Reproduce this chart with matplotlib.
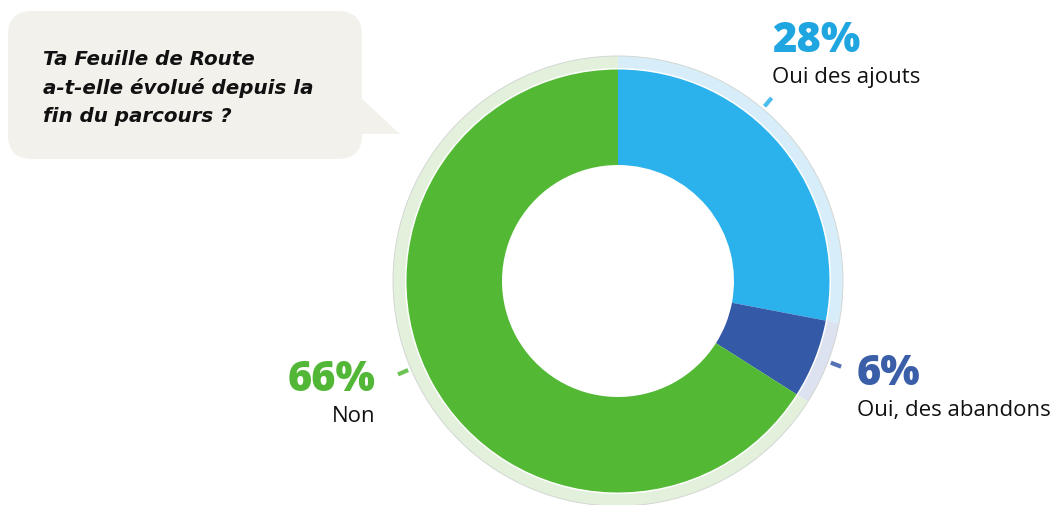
import matplotlib.pyplot as plt
from matplotlib.patches import FancyBboxPatch, Polygon, Circle
import numpy as np

# survey answers, clockwise from 12 o'clock
answers = ["Oui des ajouts", "Oui, des abandons", "Non"]
shares = [28, 6, 66]
colors = ["#2bb2ec", "#3459a7", "#53b935"]
halo_colors = ["#d7eefa", "#dce2ef", "#e3f1dc"]
label_colors = ["#1fa6e0", "#3a5ea8", "#52b737"]

question_lines = ["Ta Feuille de Route", "a-t-elle évolué depuis la", "fin du parcours ?"]

W, H = 1056, 506
CX, CY = 618, 282
R_OUT, R_IN = 211.5, 116
R_HALO = 225

plt.rcParams["font.family"] = ["Open Sans", "DejaVu Sans"]

fig = plt.figure(figsize=(W / 100, H / 100), dpi=100)
ax = fig.add_axes([0, 0, 1, 1])

# pale outer ring, one tint per answer
ax.pie(shares, colors=halo_colors, radius=R_HALO, center=(CX, CY),
       startangle=270, counterclock=True,
       wedgeprops=dict(width=R_HALO - R_OUT - 1.5, linewidth=0))
ax.add_patch(Circle((CX, CY), R_HALO, fill=False, ec="#d3d7d3", lw=0.7, zorder=3))

# main donut
ax.pie(shares, colors=colors, radius=R_OUT, center=(CX, CY),
       startangle=270, counterclock=True,
       wedgeprops=dict(width=R_OUT - R_IN, linewidth=0))

# small ticks just outside the ring (angle in degrees clockwise from top)
tick_angles = [40, 111, 247]
for ang, col in zip(tick_angles, colors):
    a = np.radians(ang)
    r0, r1 = 228, 239
    ax.plot([CX + r0 * np.sin(a), CX + r1 * np.sin(a)],
            [CY - r0 * np.cos(a), CY - r1 * np.cos(a)],
            color=col, lw=3, solid_capstyle="butt", alpha=0.85)

# labels
label_pos = [(772, 52, "left"), (857, 385, "left"), (375, 391, "right")]
for (x, y, ha), share, name, col in zip(label_pos, shares, answers, label_colors):
    ax.text(x, y, f"{share}%", color=col, fontsize=30, fontweight="heavy",
            ha=ha, va="baseline")
    ax.text(x, y + 31, name, color="#111111", fontsize=16, ha=ha, va="baseline")

# speech bubble with the question
bubble = FancyBboxPatch((8, 12), 354, 148, boxstyle="round,pad=0,rounding_size=24",
                        fc="#f3f1ec", ec="none")
ax.add_patch(bubble)
ax.add_patch(Polygon([(360, 98), (400, 135), (360, 135)], closed=True,
                     fc="#f3f1ec", ec="none"))
for i, line in enumerate(question_lines):
    ax.text(43, 65 + 28.5 * i, line, fontsize=14.3, fontweight="bold",
            fontstyle="oblique", family="DejaVu Sans",
            color="#111111", ha="left", va="baseline")

ax.set_xlim(0, W)
ax.set_ylim(H, 0)
ax.set_aspect("equal")
ax.axis("off")

fig.savefig("out.png", dpi=100)
